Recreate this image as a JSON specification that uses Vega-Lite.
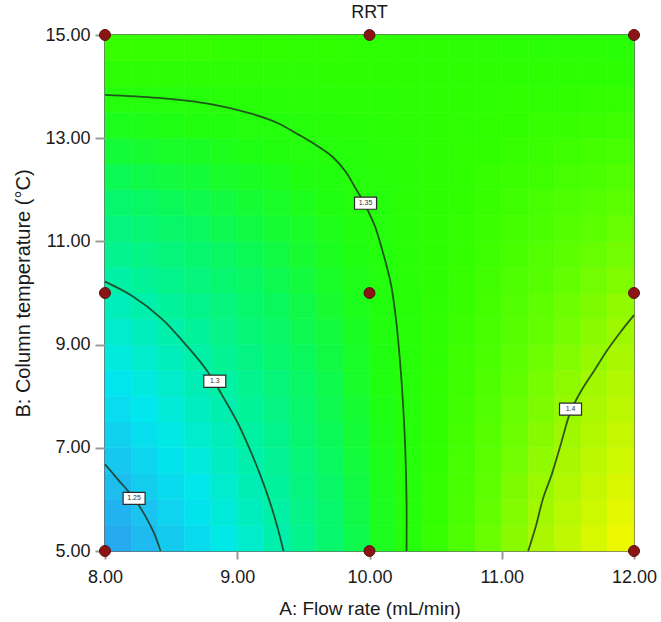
{
"$schema":"https://vega.github.io/schema/vega-lite/v6.json",
"width":529,"height":516,
"autosize":"none",
"padding":{"left":105,"top":35,"right":27,"bottom":71},
"title":{"text":"RRT","fontSize":18,"font":"Liberation Sans","fontWeight":"normal","color":"#1a1a1a","offset":4},
"config":{"view":{"stroke":"#3a3a3a","strokeWidth":1.5},"font":"Liberation Sans"},
"datasets":{
"grid":[
{"A":8.1,"B":5.25,"R":1.236},{"A":8.3,"B":5.25,"R":1.246},{"A":8.5,"B":5.25,"R":1.257},{"A":8.7,"B":5.25,"R":1.267},{"A":8.9,"B":5.25,"R":1.278},{"A":9.1,"B":5.25,"R":1.288},{"A":9.3,"B":5.25,"R":1.299},{"A":9.5,"B":5.25,"R":1.309},{"A":9.7,"B":5.25,"R":1.320},{"A":9.9,"B":5.25,"R":1.330},{"A":10.1,"B":5.25,"R":1.341},{"A":10.3,"B":5.25,"R":1.351},{"A":10.5,"B":5.25,"R":1.362},{"A":10.7,"B":5.25,"R":1.372},{"A":10.9,"B":5.25,"R":1.383},{"A":11.1,"B":5.25,"R":1.393},{"A":11.3,"B":5.25,"R":1.404},{"A":11.5,"B":5.25,"R":1.414},{"A":11.7,"B":5.25,"R":1.425},{"A":11.9,"B":5.25,"R":1.435},
{"A":8.1,"B":5.75,"R":1.242},{"A":8.3,"B":5.75,"R":1.252},{"A":8.5,"B":5.75,"R":1.262},{"A":8.7,"B":5.75,"R":1.272},{"A":8.9,"B":5.75,"R":1.282},{"A":9.1,"B":5.75,"R":1.292},{"A":9.3,"B":5.75,"R":1.301},{"A":9.5,"B":5.75,"R":1.311},{"A":9.7,"B":5.75,"R":1.321},{"A":9.9,"B":5.75,"R":1.331},{"A":10.1,"B":5.75,"R":1.341},{"A":10.3,"B":5.75,"R":1.351},{"A":10.5,"B":5.75,"R":1.361},{"A":10.7,"B":5.75,"R":1.371},{"A":10.9,"B":5.75,"R":1.381},{"A":11.1,"B":5.75,"R":1.391},{"A":11.3,"B":5.75,"R":1.401},{"A":11.5,"B":5.75,"R":1.411},{"A":11.7,"B":5.75,"R":1.421},{"A":11.9,"B":5.75,"R":1.431},
{"A":8.1,"B":6.25,"R":1.248},{"A":8.3,"B":6.25,"R":1.258},{"A":8.5,"B":6.25,"R":1.267},{"A":8.7,"B":6.25,"R":1.276},{"A":8.9,"B":6.25,"R":1.286},{"A":9.1,"B":6.25,"R":1.295},{"A":9.3,"B":6.25,"R":1.304},{"A":9.5,"B":6.25,"R":1.314},{"A":9.7,"B":6.25,"R":1.323},{"A":9.9,"B":6.25,"R":1.332},{"A":10.1,"B":6.25,"R":1.342},{"A":10.3,"B":6.25,"R":1.351},{"A":10.5,"B":6.25,"R":1.361},{"A":10.7,"B":6.25,"R":1.370},{"A":10.9,"B":6.25,"R":1.379},{"A":11.1,"B":6.25,"R":1.389},{"A":11.3,"B":6.25,"R":1.398},{"A":11.5,"B":6.25,"R":1.407},{"A":11.7,"B":6.25,"R":1.417},{"A":11.9,"B":6.25,"R":1.426},
{"A":8.1,"B":6.75,"R":1.255},{"A":8.3,"B":6.75,"R":1.263},{"A":8.5,"B":6.75,"R":1.272},{"A":8.7,"B":6.75,"R":1.281},{"A":8.9,"B":6.75,"R":1.290},{"A":9.1,"B":6.75,"R":1.299},{"A":9.3,"B":6.75,"R":1.307},{"A":9.5,"B":6.75,"R":1.316},{"A":9.7,"B":6.75,"R":1.325},{"A":9.9,"B":6.75,"R":1.334},{"A":10.1,"B":6.75,"R":1.342},{"A":10.3,"B":6.75,"R":1.351},{"A":10.5,"B":6.75,"R":1.360},{"A":10.7,"B":6.75,"R":1.369},{"A":10.9,"B":6.75,"R":1.378},{"A":11.1,"B":6.75,"R":1.386},{"A":11.3,"B":6.75,"R":1.395},{"A":11.5,"B":6.75,"R":1.404},{"A":11.7,"B":6.75,"R":1.413},{"A":11.9,"B":6.75,"R":1.421},
{"A":8.1,"B":7.25,"R":1.261},{"A":8.3,"B":7.25,"R":1.269},{"A":8.5,"B":7.25,"R":1.278},{"A":8.7,"B":7.25,"R":1.286},{"A":8.9,"B":7.25,"R":1.294},{"A":9.1,"B":7.25,"R":1.302},{"A":9.3,"B":7.25,"R":1.310},{"A":9.5,"B":7.25,"R":1.319},{"A":9.7,"B":7.25,"R":1.327},{"A":9.9,"B":7.25,"R":1.335},{"A":10.1,"B":7.25,"R":1.343},{"A":10.3,"B":7.25,"R":1.351},{"A":10.5,"B":7.25,"R":1.359},{"A":10.7,"B":7.25,"R":1.368},{"A":10.9,"B":7.25,"R":1.376},{"A":11.1,"B":7.25,"R":1.384},{"A":11.3,"B":7.25,"R":1.392},{"A":11.5,"B":7.25,"R":1.400},{"A":11.7,"B":7.25,"R":1.409},{"A":11.9,"B":7.25,"R":1.417},
{"A":8.1,"B":7.75,"R":1.268},{"A":8.3,"B":7.75,"R":1.275},{"A":8.5,"B":7.75,"R":1.283},{"A":8.7,"B":7.75,"R":1.291},{"A":8.9,"B":7.75,"R":1.298},{"A":9.1,"B":7.75,"R":1.306},{"A":9.3,"B":7.75,"R":1.313},{"A":9.5,"B":7.75,"R":1.321},{"A":9.7,"B":7.75,"R":1.329},{"A":9.9,"B":7.75,"R":1.336},{"A":10.1,"B":7.75,"R":1.344},{"A":10.3,"B":7.75,"R":1.351},{"A":10.5,"B":7.75,"R":1.359},{"A":10.7,"B":7.75,"R":1.367},{"A":10.9,"B":7.75,"R":1.374},{"A":11.1,"B":7.75,"R":1.382},{"A":11.3,"B":7.75,"R":1.389},{"A":11.5,"B":7.75,"R":1.397},{"A":11.7,"B":7.75,"R":1.405},{"A":11.9,"B":7.75,"R":1.412},
{"A":8.1,"B":8.25,"R":1.274},{"A":8.3,"B":8.25,"R":1.281},{"A":8.5,"B":8.25,"R":1.288},{"A":8.7,"B":8.25,"R":1.295},{"A":8.9,"B":8.25,"R":1.302},{"A":9.1,"B":8.25,"R":1.309},{"A":9.3,"B":8.25,"R":1.316},{"A":9.5,"B":8.25,"R":1.323},{"A":9.7,"B":8.25,"R":1.330},{"A":9.9,"B":8.25,"R":1.338},{"A":10.1,"B":8.25,"R":1.345},{"A":10.3,"B":8.25,"R":1.352},{"A":10.5,"B":8.25,"R":1.359},{"A":10.7,"B":8.25,"R":1.366},{"A":10.9,"B":8.25,"R":1.373},{"A":11.1,"B":8.25,"R":1.380},{"A":11.3,"B":8.25,"R":1.387},{"A":11.5,"B":8.25,"R":1.394},{"A":11.7,"B":8.25,"R":1.401},{"A":11.9,"B":8.25,"R":1.408},
{"A":8.1,"B":8.75,"R":1.281},{"A":8.3,"B":8.75,"R":1.287},{"A":8.5,"B":8.75,"R":1.294},{"A":8.7,"B":8.75,"R":1.300},{"A":8.9,"B":8.75,"R":1.307},{"A":9.1,"B":8.75,"R":1.313},{"A":9.3,"B":8.75,"R":1.320},{"A":9.5,"B":8.75,"R":1.326},{"A":9.7,"B":8.75,"R":1.332},{"A":9.9,"B":8.75,"R":1.339},{"A":10.1,"B":8.75,"R":1.345},{"A":10.3,"B":8.75,"R":1.352},{"A":10.5,"B":8.75,"R":1.358},{"A":10.7,"B":8.75,"R":1.365},{"A":10.9,"B":8.75,"R":1.371},{"A":11.1,"B":8.75,"R":1.378},{"A":11.3,"B":8.75,"R":1.384},{"A":11.5,"B":8.75,"R":1.391},{"A":11.7,"B":8.75,"R":1.397},{"A":11.9,"B":8.75,"R":1.403},
{"A":8.1,"B":9.25,"R":1.287},{"A":8.3,"B":9.25,"R":1.293},{"A":8.5,"B":9.25,"R":1.299},{"A":8.7,"B":9.25,"R":1.305},{"A":8.9,"B":9.25,"R":1.311},{"A":9.1,"B":9.25,"R":1.317},{"A":9.3,"B":9.25,"R":1.323},{"A":9.5,"B":9.25,"R":1.329},{"A":9.7,"B":9.25,"R":1.334},{"A":9.9,"B":9.25,"R":1.340},{"A":10.1,"B":9.25,"R":1.346},{"A":10.3,"B":9.25,"R":1.352},{"A":10.5,"B":9.25,"R":1.358},{"A":10.7,"B":9.25,"R":1.364},{"A":10.9,"B":9.25,"R":1.370},{"A":11.1,"B":9.25,"R":1.376},{"A":11.3,"B":9.25,"R":1.381},{"A":11.5,"B":9.25,"R":1.387},{"A":11.7,"B":9.25,"R":1.393},{"A":11.9,"B":9.25,"R":1.399},
{"A":8.1,"B":9.75,"R":1.294},{"A":8.3,"B":9.75,"R":1.299},{"A":8.5,"B":9.75,"R":1.305},{"A":8.7,"B":9.75,"R":1.310},{"A":8.9,"B":9.75,"R":1.315},{"A":9.1,"B":9.75,"R":1.321},{"A":9.3,"B":9.75,"R":1.326},{"A":9.5,"B":9.75,"R":1.331},{"A":9.7,"B":9.75,"R":1.337},{"A":9.9,"B":9.75,"R":1.342},{"A":10.1,"B":9.75,"R":1.347},{"A":10.3,"B":9.75,"R":1.352},{"A":10.5,"B":9.75,"R":1.358},{"A":10.7,"B":9.75,"R":1.363},{"A":10.9,"B":9.75,"R":1.368},{"A":11.1,"B":9.75,"R":1.374},{"A":11.3,"B":9.75,"R":1.379},{"A":11.5,"B":9.75,"R":1.384},{"A":11.7,"B":9.75,"R":1.389},{"A":11.9,"B":9.75,"R":1.395},
{"A":8.1,"B":10.25,"R":1.301},{"A":8.3,"B":10.25,"R":1.306},{"A":8.5,"B":10.25,"R":1.310},{"A":8.7,"B":10.25,"R":1.315},{"A":8.9,"B":10.25,"R":1.320},{"A":9.1,"B":10.25,"R":1.324},{"A":9.3,"B":10.25,"R":1.329},{"A":9.5,"B":10.25,"R":1.334},{"A":9.7,"B":10.25,"R":1.339},{"A":9.9,"B":10.25,"R":1.343},{"A":10.1,"B":10.25,"R":1.348},{"A":10.3,"B":10.25,"R":1.353},{"A":10.5,"B":10.25,"R":1.357},{"A":10.7,"B":10.25,"R":1.362},{"A":10.9,"B":10.25,"R":1.367},{"A":11.1,"B":10.25,"R":1.372},{"A":11.3,"B":10.25,"R":1.376},{"A":11.5,"B":10.25,"R":1.381},{"A":11.7,"B":10.25,"R":1.386},{"A":11.9,"B":10.25,"R":1.390},
{"A":8.1,"B":10.75,"R":1.308},{"A":8.3,"B":10.75,"R":1.312},{"A":8.5,"B":10.75,"R":1.316},{"A":8.7,"B":10.75,"R":1.320},{"A":8.9,"B":10.75,"R":1.324},{"A":9.1,"B":10.75,"R":1.328},{"A":9.3,"B":10.75,"R":1.332},{"A":9.5,"B":10.75,"R":1.337},{"A":9.7,"B":10.75,"R":1.341},{"A":9.9,"B":10.75,"R":1.345},{"A":10.1,"B":10.75,"R":1.349},{"A":10.3,"B":10.75,"R":1.353},{"A":10.5,"B":10.75,"R":1.357},{"A":10.7,"B":10.75,"R":1.361},{"A":10.9,"B":10.75,"R":1.365},{"A":11.1,"B":10.75,"R":1.370},{"A":11.3,"B":10.75,"R":1.374},{"A":11.5,"B":10.75,"R":1.378},{"A":11.7,"B":10.75,"R":1.382},{"A":11.9,"B":10.75,"R":1.386},
{"A":8.1,"B":11.25,"R":1.314},{"A":8.3,"B":11.25,"R":1.318},{"A":8.5,"B":11.25,"R":1.322},{"A":8.7,"B":11.25,"R":1.325},{"A":8.9,"B":11.25,"R":1.329},{"A":9.1,"B":11.25,"R":1.332},{"A":9.3,"B":11.25,"R":1.336},{"A":9.5,"B":11.25,"R":1.339},{"A":9.7,"B":11.25,"R":1.343},{"A":9.9,"B":11.25,"R":1.346},{"A":10.1,"B":11.25,"R":1.350},{"A":10.3,"B":11.25,"R":1.353},{"A":10.5,"B":11.25,"R":1.357},{"A":10.7,"B":11.25,"R":1.361},{"A":10.9,"B":11.25,"R":1.364},{"A":11.1,"B":11.25,"R":1.368},{"A":11.3,"B":11.25,"R":1.371},{"A":11.5,"B":11.25,"R":1.375},{"A":11.7,"B":11.25,"R":1.378},{"A":11.9,"B":11.25,"R":1.382},
{"A":8.1,"B":11.75,"R":1.321},{"A":8.3,"B":11.75,"R":1.324},{"A":8.5,"B":11.75,"R":1.327},{"A":8.7,"B":11.75,"R":1.330},{"A":8.9,"B":11.75,"R":1.333},{"A":9.1,"B":11.75,"R":1.336},{"A":9.3,"B":11.75,"R":1.339},{"A":9.5,"B":11.75,"R":1.342},{"A":9.7,"B":11.75,"R":1.345},{"A":9.9,"B":11.75,"R":1.348},{"A":10.1,"B":11.75,"R":1.351},{"A":10.3,"B":11.75,"R":1.354},{"A":10.5,"B":11.75,"R":1.357},{"A":10.7,"B":11.75,"R":1.360},{"A":10.9,"B":11.75,"R":1.363},{"A":11.1,"B":11.75,"R":1.366},{"A":11.3,"B":11.75,"R":1.369},{"A":11.5,"B":11.75,"R":1.372},{"A":11.7,"B":11.75,"R":1.375},{"A":11.9,"B":11.75,"R":1.378},
{"A":8.1,"B":12.25,"R":1.328},{"A":8.3,"B":12.25,"R":1.331},{"A":8.5,"B":12.25,"R":1.333},{"A":8.7,"B":12.25,"R":1.335},{"A":8.9,"B":12.25,"R":1.338},{"A":9.1,"B":12.25,"R":1.340},{"A":9.3,"B":12.25,"R":1.342},{"A":9.5,"B":12.25,"R":1.345},{"A":9.7,"B":12.25,"R":1.347},{"A":9.9,"B":12.25,"R":1.350},{"A":10.1,"B":12.25,"R":1.352},{"A":10.3,"B":12.25,"R":1.354},{"A":10.5,"B":12.25,"R":1.357},{"A":10.7,"B":12.25,"R":1.359},{"A":10.9,"B":12.25,"R":1.362},{"A":11.1,"B":12.25,"R":1.364},{"A":11.3,"B":12.25,"R":1.366},{"A":11.5,"B":12.25,"R":1.369},{"A":11.7,"B":12.25,"R":1.371},{"A":11.9,"B":12.25,"R":1.374},
{"A":8.1,"B":12.75,"R":1.335},{"A":8.3,"B":12.75,"R":1.337},{"A":8.5,"B":12.75,"R":1.339},{"A":8.7,"B":12.75,"R":1.340},{"A":8.9,"B":12.75,"R":1.342},{"A":9.1,"B":12.75,"R":1.344},{"A":9.3,"B":12.75,"R":1.346},{"A":9.5,"B":12.75,"R":1.348},{"A":9.7,"B":12.75,"R":1.350},{"A":9.9,"B":12.75,"R":1.351},{"A":10.1,"B":12.75,"R":1.353},{"A":10.3,"B":12.75,"R":1.355},{"A":10.5,"B":12.75,"R":1.357},{"A":10.7,"B":12.75,"R":1.359},{"A":10.9,"B":12.75,"R":1.360},{"A":11.1,"B":12.75,"R":1.362},{"A":11.3,"B":12.75,"R":1.364},{"A":11.5,"B":12.75,"R":1.366},{"A":11.7,"B":12.75,"R":1.368},{"A":11.9,"B":12.75,"R":1.369},
{"A":8.1,"B":13.25,"R":1.342},{"A":8.3,"B":13.25,"R":1.343},{"A":8.5,"B":13.25,"R":1.344},{"A":8.7,"B":13.25,"R":1.346},{"A":8.9,"B":13.25,"R":1.347},{"A":9.1,"B":13.25,"R":1.348},{"A":9.3,"B":13.25,"R":1.349},{"A":9.5,"B":13.25,"R":1.351},{"A":9.7,"B":13.25,"R":1.352},{"A":9.9,"B":13.25,"R":1.353},{"A":10.1,"B":13.25,"R":1.354},{"A":10.3,"B":13.25,"R":1.356},{"A":10.5,"B":13.25,"R":1.357},{"A":10.7,"B":13.25,"R":1.358},{"A":10.9,"B":13.25,"R":1.359},{"A":11.1,"B":13.25,"R":1.360},{"A":11.3,"B":13.25,"R":1.362},{"A":11.5,"B":13.25,"R":1.363},{"A":11.7,"B":13.25,"R":1.364},{"A":11.9,"B":13.25,"R":1.365},
{"A":8.1,"B":13.75,"R":1.349},{"A":8.3,"B":13.75,"R":1.350},{"A":8.5,"B":13.75,"R":1.350},{"A":8.7,"B":13.75,"R":1.351},{"A":8.9,"B":13.75,"R":1.352},{"A":9.1,"B":13.75,"R":1.352},{"A":9.3,"B":13.75,"R":1.353},{"A":9.5,"B":13.75,"R":1.353},{"A":9.7,"B":13.75,"R":1.354},{"A":9.9,"B":13.75,"R":1.355},{"A":10.1,"B":13.75,"R":1.355},{"A":10.3,"B":13.75,"R":1.356},{"A":10.5,"B":13.75,"R":1.357},{"A":10.7,"B":13.75,"R":1.357},{"A":10.9,"B":13.75,"R":1.358},{"A":11.1,"B":13.75,"R":1.359},{"A":11.3,"B":13.75,"R":1.359},{"A":11.5,"B":13.75,"R":1.360},{"A":11.7,"B":13.75,"R":1.361},{"A":11.9,"B":13.75,"R":1.361},
{"A":8.1,"B":14.25,"R":1.356},{"A":8.3,"B":14.25,"R":1.356},{"A":8.5,"B":14.25,"R":1.356},{"A":8.7,"B":14.25,"R":1.356},{"A":8.9,"B":14.25,"R":1.356},{"A":9.1,"B":14.25,"R":1.356},{"A":9.3,"B":14.25,"R":1.356},{"A":9.5,"B":14.25,"R":1.356},{"A":9.7,"B":14.25,"R":1.357},{"A":9.9,"B":14.25,"R":1.357},{"A":10.1,"B":14.25,"R":1.357},{"A":10.3,"B":14.25,"R":1.357},{"A":10.5,"B":14.25,"R":1.357},{"A":10.7,"B":14.25,"R":1.357},{"A":10.9,"B":14.25,"R":1.357},{"A":11.1,"B":14.25,"R":1.357},{"A":11.3,"B":14.25,"R":1.357},{"A":11.5,"B":14.25,"R":1.357},{"A":11.7,"B":14.25,"R":1.357},{"A":11.9,"B":14.25,"R":1.357},
{"A":8.1,"B":14.75,"R":1.363},{"A":8.3,"B":14.75,"R":1.363},{"A":8.5,"B":14.75,"R":1.362},{"A":8.7,"B":14.75,"R":1.362},{"A":8.9,"B":14.75,"R":1.361},{"A":9.1,"B":14.75,"R":1.360},{"A":9.3,"B":14.75,"R":1.360},{"A":9.5,"B":14.75,"R":1.359},{"A":9.7,"B":14.75,"R":1.359},{"A":9.9,"B":14.75,"R":1.358},{"A":10.1,"B":14.75,"R":1.358},{"A":10.3,"B":14.75,"R":1.357},{"A":10.5,"B":14.75,"R":1.357},{"A":10.7,"B":14.75,"R":1.356},{"A":10.9,"B":14.75,"R":1.356},{"A":11.1,"B":14.75,"R":1.355},{"A":11.3,"B":14.75,"R":1.355},{"A":11.5,"B":14.75,"R":1.354},{"A":11.7,"B":14.75,"R":1.354},{"A":11.9,"B":14.75,"R":1.353}
],
"contours":[
{"L":"1.25","o":1,"A":8.0,"B":6.68},{"L":"1.25","o":2,"A":8.1,"B":6.38},{"L":"1.25","o":3,"A":8.22,"B":6.02},{"L":"1.25","o":4,"A":8.3,"B":5.7},{"L":"1.25","o":5,"A":8.37,"B":5.35},{"L":"1.25","o":6,"A":8.42,"B":5.0},
{"L":"1.3","o":1,"A":8.0,"B":10.22},{"L":"1.3","o":2,"A":8.2,"B":9.95},{"L":"1.3","o":3,"A":8.43,"B":9.5},{"L":"1.3","o":4,"A":8.61,"B":9.0},{"L":"1.3","o":5,"A":8.77,"B":8.5},{"L":"1.3","o":6,"A":8.89,"B":8.0},{"L":"1.3","o":7,"A":9.0,"B":7.5},{"L":"1.3","o":8,"A":9.09,"B":7.0},{"L":"1.3","o":9,"A":9.17,"B":6.5},{"L":"1.3","o":10,"A":9.24,"B":6.0},{"L":"1.3","o":11,"A":9.3,"B":5.5},{"L":"1.3","o":12,"A":9.35,"B":5.0},
{"L":"1.35","o":1,"A":8.0,"B":13.84},{"L":"1.35","o":2,"A":8.4,"B":13.78},{"L":"1.35","o":3,"A":8.8,"B":13.66},{"L":"1.35","o":4,"A":9.1,"B":13.48},{"L":"1.35","o":5,"A":9.3,"B":13.3},{"L":"1.35","o":6,"A":9.47,"B":13.06},{"L":"1.35","o":7,"A":9.6,"B":12.86},{"L":"1.35","o":8,"A":9.72,"B":12.64},{"L":"1.35","o":9,"A":9.82,"B":12.35},{"L":"1.35","o":10,"A":9.89,"B":12.05},{"L":"1.35","o":11,"A":9.96,"B":11.74},{"L":"1.35","o":12,"A":10.04,"B":11.3},{"L":"1.35","o":13,"A":10.1,"B":10.8},{"L":"1.35","o":14,"A":10.16,"B":10.2},{"L":"1.35","o":15,"A":10.2,"B":9.5},{"L":"1.35","o":16,"A":10.23,"B":8.7},{"L":"1.35","o":17,"A":10.25,"B":8.0},{"L":"1.35","o":18,"A":10.27,"B":7.0},{"L":"1.35","o":19,"A":10.28,"B":6.0},{"L":"1.35","o":20,"A":10.28,"B":5.0},
{"L":"1.4","o":1,"A":11.2,"B":5.0},{"L":"1.4","o":2,"A":11.26,"B":5.5},{"L":"1.4","o":3,"A":11.31,"B":6.0},{"L":"1.4","o":4,"A":11.38,"B":6.5},{"L":"1.4","o":5,"A":11.45,"B":7.1},{"L":"1.4","o":6,"A":11.52,"B":7.7},{"L":"1.4","o":7,"A":11.6,"B":8.1},{"L":"1.4","o":8,"A":11.7,"B":8.5},{"L":"1.4","o":9,"A":11.8,"B":8.9},{"L":"1.4","o":10,"A":11.9,"B":9.25},{"L":"1.4","o":11,"A":12.0,"B":9.57}
],
"labels":[
{"L":"1.25","A":8.22,"B":6.02},{"L":"1.3","A":8.83,"B":8.29},{"L":"1.35","A":9.97,"B":11.74},{"L":"1.4","A":11.52,"B":7.75}
],
"points":[
{"A":8,"B":5},{"A":10,"B":5},{"A":12,"B":5},{"A":8,"B":10},{"A":10,"B":10},{"A":12,"B":10},{"A":8,"B":15},{"A":10,"B":15},{"A":12,"B":15}
]
},
"layer":[
{"data":{"name":"grid"},
 "mark":{"type":"rect","strokeWidth":0.6},
 "encoding":{
  "x":{"field":"A","type":"ordinal","axis":null,"scale":{"paddingInner":0,"paddingOuter":0}},
  "y":{"field":"B","type":"ordinal","axis":null,"sort":"descending","scale":{"paddingInner":0,"paddingOuter":0}},
  "fill":{"field":"R","type":"quantitative","legend":null,"scale":{"domain":[1.22,1.25,1.275,1.30,1.325,1.345,1.36,1.38,1.40,1.44],"range":["#3090ee","#1cc0f0","#00e8ee","#00f0a8","#08f860","#20ff10","#30ff00","#60ff00","#a0f800","#f8f800"],"interpolate":"rgb"}},
  "stroke":{"field":"R","type":"quantitative","legend":null,"scale":{"domain":[1.22,1.25,1.275,1.30,1.325,1.345,1.36,1.38,1.40,1.44],"range":["#3090ee","#1cc0f0","#00e8ee","#00f0a8","#08f860","#20ff10","#30ff00","#60ff00","#a0f800","#f8f800"],"interpolate":"rgb"}}
 }
},
{"encoding":{
  "x":{"field":"A","type":"quantitative","scale":{"domain":[8,12],"nice":false,"zero":false},
   "axis":{"orient":"bottom","values":[8,9,10,11,12],"format":".2f","title":"A: Flow rate (mL/min)","domain":false,"grid":false,"tickColor":"#9a9a9a","tickWidth":2,"tickSize":8,"labelFontSize":18,"labelPadding":9,"labelFlush":false,"labelColor":"#1a1a1a","titleFontSize":19,"titleFontWeight":"normal","titleColor":"#1a1a1a","titlePadding":13}},
  "y":{"field":"B","type":"quantitative","scale":{"domain":[5,15],"nice":false,"zero":false},
   "axis":{"orient":"left","values":[5,7,9,11,13,15],"format":".2f","title":"B: Column temperature (°C)","domain":false,"grid":false,"tickColor":"#9a9a9a","tickWidth":2,"tickSize":10,"labelFontSize":18,"labelPadding":5,"labelFlush":false,"labelColor":"#1a1a1a","titleFontSize":20,"titleFontWeight":"normal","titleColor":"#1a1a1a","titlePadding":11}}
 },
 "layer":[
  {"data":{"name":"contours"},"mark":{"type":"line","color":"#1e3a1e","strokeWidth":1.8,"opacity":0.85,"interpolate":"catmull-rom"},
   "encoding":{"detail":{"field":"L"},"order":{"field":"o","type":"quantitative"}}},
  {"data":{"name":"labels"},"mark":{"type":"point","shape":"M-1,-0.55L1,-0.55L1,0.55L-1,0.55Z","size":484,"filled":true,"fill":"#ffffff","stroke":"#2a2a2a","strokeWidth":1.2,"opacity":1},"encoding":{}},
  {"data":{"name":"labels"},"mark":{"type":"text","fontSize":7,"color":"#333333","font":"Liberation Sans"},"encoding":{"text":{"field":"L"}}},
  {"data":{"name":"points"},"mark":{"type":"circle","size":120,"color":"#8b1515","opacity":1,"stroke":"#5a0a0a","strokeWidth":1},"encoding":{}}
 ]
}
],
"resolve":{"scale":{"x":"independent","y":"independent"}}
}
